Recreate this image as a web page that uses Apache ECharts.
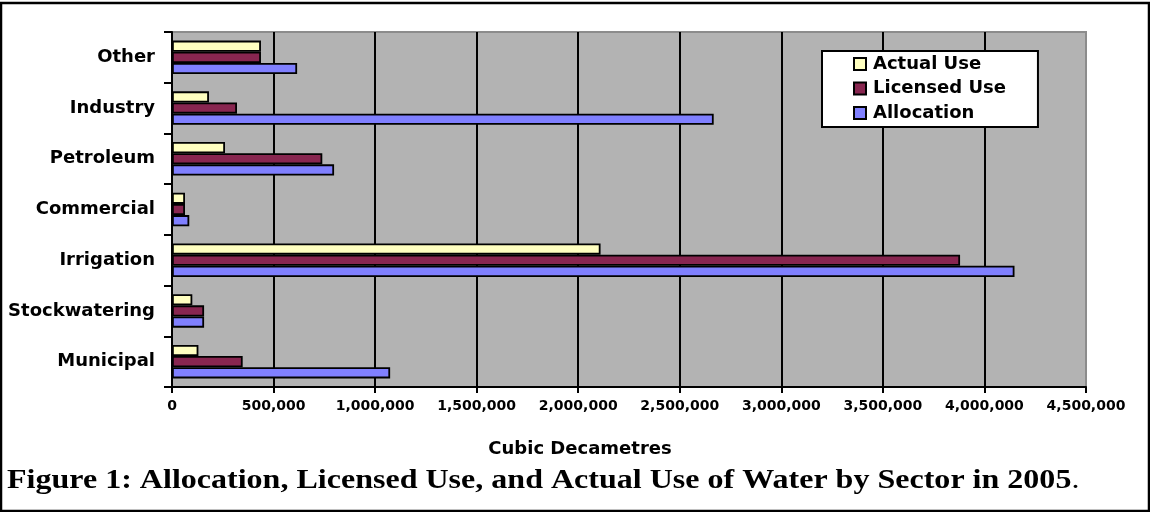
<!DOCTYPE html>
<html>
<head>
<meta charset="utf-8">
<script src="https://cdn.jsdelivr.net/npm/echarts@6/dist/echarts.min.js"></script>
<style>
html,body{margin:0;padding:0;background:#fff;}
#c{width:1150px;height:512px;}
</style>
</head>
<body>
<div id="c"></div>
<script>
var categories = ['Municipal', 'Stockwatering', 'Irrigation', 'Commercial', 'Petroleum', 'Industry', 'Other'];
var actualUse = [130000, 100000, 2110000, 64000, 261000, 182000, 438000];
var licensedUse = [348000, 158000, 3880000, 64000, 740000, 320000, 438000];
var allocation = [1074000, 158000, 4148000, 85000, 798000, 2667000, 616000];
var xTicks = { min: 0, max: 4500000, interval: 500000 };

var chart = echarts.init(document.getElementById('c'), null, { renderer: 'canvas' });
var font = 'DejaVu Sans';
var barBorder = { borderColor: '#000', borderWidth: 1.8 };
chart.setOption({
  animation: false,
  backgroundColor: '#fff',
  grid: {
    left: 172, right: 64, top: 32, bottom: 125,
    show: true, backgroundColor: '#b3b3b3', borderColor: '#8c8c8c', borderWidth: 2
  },
  legend: {
    data: ['Actual Use', 'Licensed Use', 'Allocation'],
    orient: 'vertical',
    icon: 'rect',
    left: 822, top: 51,
    padding: [4, 32, 5, 31],
    itemWidth: 12, itemHeight: 12, itemGap: 6.5,
    backgroundColor: '#fff', borderColor: '#000', borderWidth: 2,
    textStyle: { fontFamily: font, fontWeight: 'bold', fontSize: 18, color: '#000', padding: [0, 0, 0, 2] }
  },
  xAxis: {
    type: 'value',
    min: xTicks.min, max: xTicks.max, interval: xTicks.interval,
    axisLine: { show: true, lineStyle: { color: '#000', width: 2 } },
    axisTick: { show: true, length: 6, lineStyle: { color: '#000', width: 2 } },
    splitLine: { show: true, showMaxLine: false, lineStyle: { color: '#000', width: 2 } },
    axisLabel: {
      margin: 12, color: '#000', fontFamily: font, fontWeight: 'bold', fontSize: 14,
      formatter: function (v) { return v.toLocaleString('en-US'); }
    }
  },
  yAxis: {
    type: 'category',
    data: categories,
    axisLine: { show: true, lineStyle: { color: '#000', width: 2 } },
    axisTick: { show: true, length: 8, lineStyle: { color: '#000', width: 2 } },
    axisLabel: { margin: 17, color: '#000', fontFamily: font, fontWeight: 'bold', fontSize: 18 }
  },
  series: [
    { name: 'Actual Use', type: 'bar', data: actualUse, barGap: '0%', barCategoryGap: '34%',
      itemStyle: Object.assign({ color: '#ffffc0' }, barBorder) },
    { name: 'Licensed Use', type: 'bar', data: licensedUse, barGap: '0%', barCategoryGap: '34%',
      itemStyle: Object.assign({ color: '#882650' }, barBorder) },
    { name: 'Allocation', type: 'bar', data: allocation, barGap: '0%', barCategoryGap: '34%',
      itemStyle: Object.assign({ color: '#8080ff' }, barBorder) }
  ],
  graphic: [
    { type: 'rect', silent: true, z: 100,
      shape: { x: 1, y: 3, width: 1148, height: 508 },
      style: { fill: 'none', stroke: '#000', lineWidth: 2.5 } },
    { type: 'text', z: 100, x: 580, y: 449,
      style: { text: 'Cubic Decametres', fontFamily: font, fontWeight: 'bold', fontSize: 18,
               fill: '#000', align: 'center', verticalAlign: 'middle' } },
    { type: 'text', z: 100, x: 7, y: 481, scaleX: 1.144,
      style: {
        text: '{b|Figure 1: Allocation, Licensed Use, and Actual Use of Water by Sector in 2005}{n|.}',
        verticalAlign: 'middle', align: 'left',
        rich: {
          b: { fontFamily: 'Liberation Serif', fontWeight: 'bold', fontSize: 28, fill: '#000', color: '#000' },
          n: { fontFamily: 'Liberation Serif', fontWeight: 'normal', fontSize: 28, fill: '#000', color: '#000' }
        }
      } }
  ]
});
</script>
</body>
</html>
